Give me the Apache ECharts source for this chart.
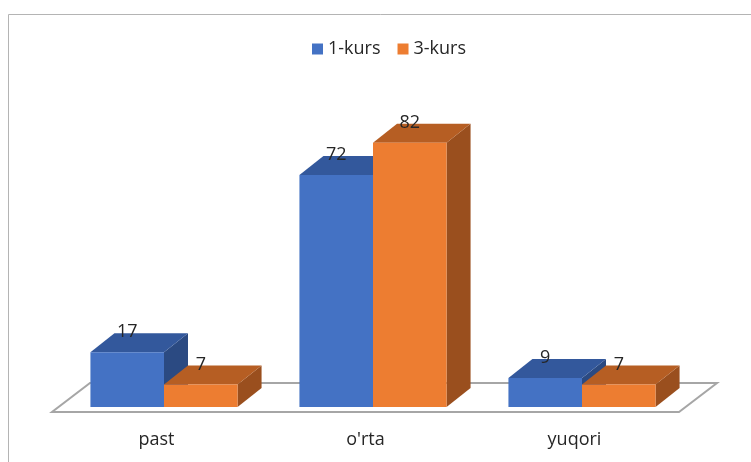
<!DOCTYPE html>
<html>
<head>
<meta charset="utf-8">
<script src="https://cdn.jsdelivr.net/npm/echarts@6/dist/echarts.min.js"></script>
<style>
  html, body { margin: 0; padding: 0; background: #fff; }
  #chart { width: 751px; height: 462px; }
</style>
</head>
<body>
<div id="chart"></div>
<script>
// kategoriyalar va qiymatlar
const categories = ['past', "o'rta", 'yuqori']
const kurs1 = [17, 72, 9]
const kurs3 = [7, 82, 7]
const seriesNames = ['1-kurs', '3-kurs']

// 3D ko'rinish uchun siljishlar
const DEPTH_X = 24
const DEPTH_Y = -19
const SHIFT_X = 7.5
const SHIFT_Y = -5
const BAR_RATIO = 0.352
const textColor = '#262626'
const font = 'Open Sans'

const palette = [
  { front: '#4472c4', top: '#33589c', side: '#2b4a82' },
  { front: '#ed7d31', top: '#b65e23', side: '#9a4f1e' }
]

// kub shaklidagi ustun chizish
function makeBar(slot) {
  const c = palette[slot]
  return function (params, api) {
    const idx = api.value(0)
    const val = api.value(1)
    const topPt = api.coord([idx, val])
    const basePt = api.coord([idx, 0])
    const band = api.size([1, 0])[0]
    const w = band * BAR_RATIO
    const x0 = topPt[0] - w + slot * w + SHIFT_X
    const x1 = x0 + w
    const yt = topPt[1] + SHIFT_Y
    const yb = basePt[1] + SHIFT_Y
    return {
      type: 'group',
      children: [
        {
          type: 'polygon',
          shape: { points: [[x1, yt], [x1 + DEPTH_X, yt + DEPTH_Y], [x1 + DEPTH_X, yb + DEPTH_Y], [x1, yb]] },
          style: { fill: c.side }
        },
        {
          type: 'polygon',
          shape: { points: [[x0, yt], [x1, yt], [x1 + DEPTH_X, yt + DEPTH_Y], [x0 + DEPTH_X, yt + DEPTH_Y]] },
          style: { fill: c.top }
        },
        {
          type: 'rect',
          shape: { x: x0, y: yt, width: w, height: yb - yt },
          style: { fill: c.front }
        },
        {
          type: 'text',
          z2: 10,
          style: {
            x: (x0 + x1) / 2,
            y: yt - 20,
            text: String(val),
            fill: textColor,
            font: '18px "' + font + '"',
            align: 'center',
            verticalAlign: 'middle'
          }
        }
      ]
    }
  }
}

// pol (asos)
function renderFloor(params, api) {
  const cs = params.coordSys
  const l = cs.x
  const r = cs.x + cs.width
  const b = cs.y + cs.height
  return {
    type: 'polygon',
    shape: { points: [[l, b], [r, b], [r + 38, b - 29], [l + 38, b - 29]] },
    style: { fill: '#ffffff', stroke: '#a6a6a6', lineWidth: 2 }
  }
}

const chart = echarts.init(document.getElementById('chart'))
const option = {
  animation: false,
  backgroundColor: '#ffffff',
  textStyle: { fontFamily: font },
  graphic: [
    {
      type: 'rect',
      shape: { x: 8.5, y: 14.5, width: 800, height: 500 },
      style: { fill: 'none', stroke: '#b4b4b4', lineWidth: 1 },
      z: -10
    }
  ],
  legend: {
    data: seriesNames,
    top: 35,
    left: 307,
    icon: 'rect',
    itemWidth: 11,
    itemHeight: 11,
    itemGap: 17,
    textStyle: { color: textColor, fontSize: 18, fontFamily: font }
  },
  grid: {
    left: 52,
    top: 122,
    width: 627,
    height: 290
  },
  xAxis: {
    type: 'category',
    data: categories,
    axisLine: { show: false },
    axisTick: { show: false },
    axisLabel: { color: textColor, fontSize: 18, fontFamily: font, margin: 19 }
  },
  yAxis: {
    type: 'value',
    min: 0,
    max: 90,
    show: false
  },
  series: [
    {
      name: 'floor',
      type: 'custom',
      silent: true,
      z: 1,
      renderItem: renderFloor,
      data: [[0, 0]]
    },
    {
      name: seriesNames[0],
      type: 'custom',
      z: 2,
      itemStyle: { color: palette[0].front },
      renderItem: makeBar(0),
      data: kurs1.map((v, i) => [i, v])
    },
    {
      name: seriesNames[1],
      type: 'custom',
      z: 3,
      itemStyle: { color: palette[1].front },
      renderItem: makeBar(1),
      data: kurs3.map((v, i) => [i, v])
    }
  ]
}
chart.setOption(option)
</script>
</body>
</html>
